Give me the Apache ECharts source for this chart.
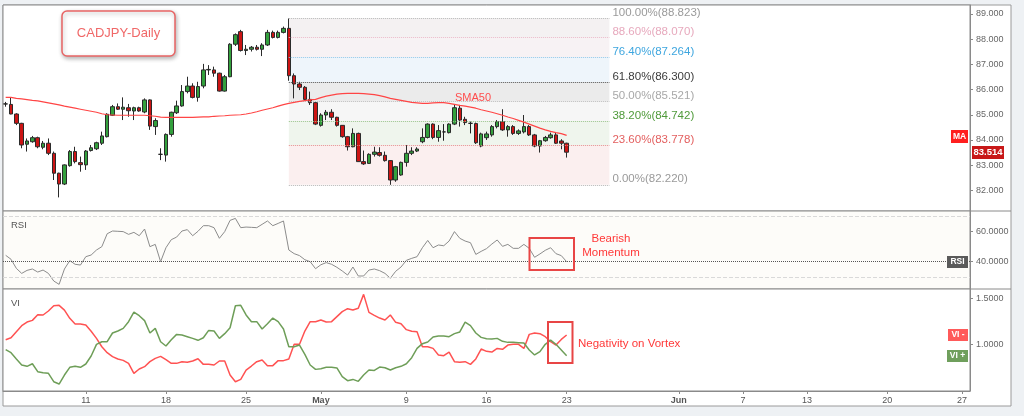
<!DOCTYPE html>
<html><head><meta charset="utf-8">
<script src="https://cdn.jsdelivr.net/npm/echarts@6/dist/echarts.min.js"></script>
<style>html,body{margin:0;padding:0;background:#eef1f4;}#c{width:1024px;height:416px;}</style>
</head><body><div id="c"></div>
<script>
// ---- DATA ----
// candles: [open, close, low, high]
const candles = [
[85.43,85.43,85.32,85.51],[85.41,85.03,85.02,85.69],[85.03,84.66,84.59,85.06],[84.66,83.80,83.67,84.68],[83.83,83.96,83.54,84.06],
[83.93,84.09,83.89,84.16],[84.09,83.73,83.67,84.13],[83.71,83.87,83.63,83.96],[83.87,83.47,83.40,84.06],[83.47,82.68,82.41,83.54],
[82.68,82.25,81.72,82.70],[82.25,83.01,82.21,83.03],[82.98,83.54,82.94,83.60],[83.54,83.14,83.07,83.73],[83.10,83.02,82.74,83.34],
[83.01,83.56,82.81,83.60],[83.58,83.69,83.54,83.80],[83.65,83.89,83.60,83.93],[83.87,84.16,83.80,84.33],[84.13,85.02,84.10,85.06],
[84.98,85.32,84.95,85.39],[85.32,85.22,85.19,85.45],[85.22,85.30,84.79,85.69],[85.28,85.16,84.92,85.43],[85.15,85.28,84.79,85.32],
[85.28,85.15,85.12,85.32],[85.11,85.59,85.06,85.65],[85.59,84.55,84.40,85.61],[84.53,84.77,84.20,84.86],[83.43,83.43,83.20,83.67],
[83.40,84.22,83.14,84.26],[84.22,85.10,84.13,85.12],[85.08,85.35,85.03,85.56],[85.35,85.92,85.32,86.18],[85.92,86.14,85.85,86.51],
[86.14,85.69,85.65,86.25],[85.69,86.12,85.52,86.31],[86.14,86.78,86.05,87.02],[86.78,86.80,86.58,86.97],[86.78,86.65,86.51,86.91],
[86.65,85.94,85.92,86.67],[85.94,86.51,85.92,86.58],[86.51,87.80,86.49,87.84],[87.80,88.18,87.73,88.23],[88.30,87.55,87.51,88.37],
[87.55,87.60,87.37,87.77],[87.60,87.68,87.51,87.73],[87.68,87.60,87.55,87.77],[87.60,87.77,87.33,87.84],[87.77,88.27,87.73,88.37],
[88.27,88.07,88.03,88.34],[88.07,88.27,88.03,88.34],[88.27,88.43,88.23,88.50],[88.43,86.55,86.35,88.823],[86.55,86.22,85.65,86.64],
[86.22,86.09,85.98,86.31],[86.09,85.61,85.56,86.14],[85.61,85.48,85.39,85.92],[85.48,84.63,84.59,85.52],[84.58,84.99,84.53,85.06],
[84.99,85.10,84.79,85.19],[85.10,84.90,84.79,85.22],[84.90,84.58,84.53,84.92],[84.58,84.13,84.09,84.59],[84.13,83.73,83.58,84.16],
[83.73,84.26,83.71,84.46],[84.26,83.14,83.13,84.29],[83.14,83.05,83.01,83.58],[83.07,83.43,83.05,83.47],[83.43,83.52,83.34,83.73],
[83.50,83.39,83.34,83.71],[83.39,83.18,83.14,83.54],[83.18,82.41,82.22,83.20],[82.41,82.94,82.34,82.97],[82.61,83.11,82.58,83.14],
[83.11,83.47,82.94,83.80],[83.47,83.56,83.40,83.71],[83.56,83.64,83.52,83.71],[83.93,84.10,83.87,84.46],[84.10,84.63,84.06,84.66],
[84.63,84.10,84.03,84.66],[84.10,84.37,83.93,84.59],[84.32,84.32,83.97,84.63],[84.29,84.63,84.26,84.66],[84.63,85.28,84.59,85.39],
[85.26,84.79,84.53,85.39],[84.82,84.69,84.59,84.92],[84.66,84.66,84.26,84.73],[84.65,83.89,83.84,84.69],[83.76,84.24,83.71,84.29],
[84.09,84.24,84.00,84.33],[84.20,84.53,84.13,84.59],[84.53,84.73,84.46,84.79],[84.73,84.40,84.36,85.22],[84.40,84.53,84.13,84.59],
[84.53,84.26,84.20,84.59],[84.26,84.36,84.20,84.42],[84.32,84.53,84.26,84.99],[84.53,84.20,84.16,84.59],[84.20,83.76,83.71,84.24],
[83.76,83.97,83.50,84.00],[83.97,84.10,83.93,84.16],[84.09,84.20,84.05,84.29],[84.20,83.87,83.84,84.29],[83.96,83.87,83.63,84.03],
[83.87,83.514,83.30,83.89]
];
const sma50 = [
85.69,85.69,85.65,85.63,85.60,85.57,85.55,85.51,85.47,85.43,
85.39,85.34,85.30,85.26,85.22,85.18,85.14,85.10,85.04,85.00,
84.99,84.98,84.98,84.98,84.98,84.98,84.98,84.96,84.94,84.91,
84.90,84.90,84.90,84.90,84.90,84.90,84.91,84.92,84.92,84.94,
84.95,84.96,84.98,84.99,85.00,85.03,85.07,85.12,85.18,85.23,
85.28,85.34,85.40,85.45,85.49,85.53,85.56,85.59,85.61,85.68,
85.74,85.78,85.82,85.84,85.85,85.85,85.85,85.84,85.82,85.80,
85.76,85.71,85.65,85.61,85.57,85.53,85.49,85.47,85.45,85.45,
85.47,85.48,85.48,85.45,85.41,85.37,85.34,85.30,85.26,85.20,
85.15,85.10,85.04,84.98,84.91,84.85,84.78,84.71,84.63,84.55,
84.47,84.40,84.34,84.29,84.25,84.18
];
const rsi = [
44.2,41.6,35.6,32.3,34.3,35.2,33.2,34.5,32.3,27.3,
25.1,35.2,40.7,38.3,37.8,43.3,44.4,47.7,49.9,58.4,
60.2,60.0,59.8,58.0,59.3,57.1,61.5,49.9,51.4,40.0,
49.2,54.5,56.2,60.2,61.1,57.1,60.0,63.7,63.7,62.4,
55.4,59.8,67.2,68.5,62.4,62.8,62.6,62.4,64.6,66.8,
63.7,65.2,66.8,47.7,45.3,44.0,41.3,40.0,35.4,38.0,
39.4,38.3,36.3,33.9,31.2,36.5,30.6,30.6,34.5,35.2,
34.1,32.3,29.1,33.7,36.5,40.9,42.2,43.3,49.2,54.0,
49.2,51.0,50.5,53.6,59.8,55.4,53.6,52.5,44.8,46.8,
48.6,51.6,54.3,50.1,51.4,48.8,48.8,51.4,48.8,42.9,
45.1,47.5,49.2,45.3,44.0,40.0
];
const viMinus = [
1.054,1.075,1.140,1.205,1.244,1.262,1.323,1.320,1.363,1.420,
1.424,1.373,1.284,1.223,1.223,1.212,1.144,1.068,0.978,0.914,
0.871,0.846,0.831,0.799,0.691,0.738,0.763,0.817,0.853,0.874,
0.838,0.799,0.799,0.817,0.810,0.824,0.849,0.788,0.788,0.781,
0.824,0.824,0.673,0.601,0.626,0.727,0.770,0.817,0.835,0.774,
0.774,0.828,0.828,0.846,1.004,1.004,1.147,1.248,1.248,1.266,
1.244,1.248,1.302,1.356,1.388,1.374,1.392,1.542,1.348,1.316,
1.287,1.266,1.320,1.241,1.226,1.162,1.144,1.140,0.978,0.978,
0.960,0.889,0.881,0.921,0.817,0.810,0.817,0.788,0.846,0.953,
0.928,0.921,0.960,0.950,0.996,1.004,1.004,0.960,1.111,1.126,
1.119,1.086,1.032,0.996,1.057,1.104
];
const viPlus = [
0.946,0.914,0.846,0.781,0.767,0.795,0.709,0.698,0.691,0.601,
0.576,0.673,0.756,0.767,0.756,0.792,0.878,1.004,1.032,1.032,
1.126,1.147,1.176,1.248,1.352,1.312,1.259,1.126,1.176,1.032,
0.986,1.054,1.111,1.104,1.086,1.068,1.047,1.075,1.154,1.147,
1.068,1.119,1.183,1.420,1.424,1.320,1.248,1.248,1.169,1.226,
1.287,1.248,1.169,0.978,0.978,0.996,0.896,0.781,0.734,0.741,
0.756,0.756,0.749,0.655,0.612,0.626,0.605,0.673,0.727,0.723,
0.759,0.752,0.727,0.752,0.767,0.795,0.860,0.960,1.011,1.029,
1.083,1.093,1.093,1.086,1.119,1.137,1.244,1.205,1.126,1.079,
1.065,1.061,1.068,1.036,1.025,1.025,1.022,1.018,0.943,0.889,
0.925,1.004,1.050,1.004,0.943,0.881
];
const fibPct   = [100, 88.6, 76.4, 61.8, 50, 38.2, 23.6, 0];
const fibPrice = [88.823, 88.070, 87.264, 86.300, 85.521, 84.742, 83.778, 82.220];
const fibFrom = 53, fibTo = 113;           // candle slots the retracement spans
const priceTicks = [82, 83, 84, 85, 86, 87, 88, 89];
const rsiTicks = [40, 60];
const rsiBands = [70, 30];
const viTicks = [1.0, 1.5];
const dateSlots  = [15, 30, 45, 59, 75, 90, 105, 126, 138, 150, 165, 179];
const dateLabels = ['11', '18', '25', 'May', '9', '16', '23', 'Jun', '7', '13', '20', '27'];
const monthLabels = ['May', 'Jun'];
const slotCount = 181;

// ---- STYLE ----
const FONT = '"Liberation Sans", Arial, sans-serif';
const zoneColors  = ['#f4f1f2', '#f7f2f4', '#eef5fb', '#ebebeb', '#f6f6f6', '#eff5ed', '#fbefef'];
const lineColors  = ['#b4b4b4', '#e9b7c7', '#8cc7ea', '#555555', '#bdbdbd', '#98c28a', '#e58c8c', '#b4b4b4'];
const labelColors = ['#9a9a9a', '#e7a9bd', '#3ea6df', '#3c3c3c', '#a8a8a8', '#4f9a3a', '#e35f5f', '#9a9a9a'];

const cats = Array.from({length: slotCount}, (_, i) => 'd' + i);
const chart = echarts.init(document.getElementById('c'));

const fibAreas = [];
for (let k = 0; k < fibPrice.length - 1; k++) {
  fibAreas.push([{coord: [fibFrom, fibPrice[k]], itemStyle: {color: zoneColors[k]}}, {coord: [fibTo, fibPrice[k + 1]]}]);
}
const fibLines = fibPrice.map((p, k) => [
  {coord: [fibFrom, p], lineStyle: {color: lineColors[k], type: 'dotted', width: 1},
   label: {show: true, position: 'end', distance: 3, offset: [0, -5.5], color: labelColors[k], fontSize: 11.5, fontFamily: FONT,
           formatter: fibPct[k].toFixed(2) + '%(' + p.toFixed(3) + ')'}},
  {coord: [fibTo, p]}
]);

const axisLineStyle = {show: true, lineStyle: {color: '#8a8a8a'}};
const yLabel = (vals, dec) => ({show: true, customValues: vals, formatter: v => Number(v).toFixed(dec), color: '#666', fontSize: 9, margin: 6, fontFamily: FONT});
const yTick = vals => ({show: true, customValues: vals, length: 3, lineStyle: {color: '#8a8a8a'}});

const option = {
  animation: false,
  backgroundColor: '#eef1f4',
  textStyle: {fontFamily: FONT},
  grid: [
    {left: 3, top: 5, width: 967, height: 206, show: true, backgroundColor: '#ffffff', borderColor: '#8a8a8a', borderWidth: 1},
    {left: 3, top: 211, width: 967, height: 78, show: true, backgroundColor: '#fdfcf9', borderColor: '#8a8a8a', borderWidth: 1},
    {left: 3, top: 289, width: 967, height: 102, show: true, backgroundColor: '#ffffff', borderColor: '#8a8a8a', borderWidth: 1}
  ],
  xAxis: [
    {type: 'category', gridIndex: 0, data: cats, show: false},
    {type: 'category', gridIndex: 1, data: cats, show: false},
    {type: 'category', gridIndex: 2, data: cats,
     axisLine: axisLineStyle,
     axisTick: {show: true, alignWithLabel: true, length: 3, interval: i => dateSlots.includes(i), lineStyle: {color: '#8a8a8a'}},
     axisLabel: {interval: i => dateSlots.includes(i), margin: 5, color: '#555', fontSize: 9, fontFamily: FONT,
       formatter: (v, i) => { const t = dateLabels[dateSlots.indexOf(i)] || ''; return monthLabels.includes(t) ? '{b|' + t + '}' : t; },
       rich: {b: {fontWeight: 'bold', fontSize: 9, color: '#555', fontFamily: FONT}}},
     splitLine: {show: false}}
  ],
  yAxis: [
    {type: 'value', gridIndex: 0, position: 'right', min: 81.18, max: 89.357, scale: true,
     axisLine: axisLineStyle, axisTick: yTick(priceTicks), axisLabel: yLabel(priceTicks, 3), splitLine: {show: false}},
    {type: 'value', gridIndex: 1, position: 'right', min: 22.04, max: 73.36,
     axisLine: axisLineStyle, axisTick: yTick(rsiTicks), axisLabel: yLabel(rsiTicks, 4), splitLine: {show: false}},
    {type: 'value', gridIndex: 2, position: 'right', min: 0.501, max: 1.6,
     axisLine: axisLineStyle, axisTick: yTick(viTicks), axisLabel: yLabel(viTicks, 4), splitLine: {show: false}}
  ],
  series: [
    {type: 'line', name: 'fib', xAxisIndex: 0, yAxisIndex: 0, data: [], z: 1, silent: true,
     markArea: {silent: true, data: fibAreas},
     markLine: {silent: true, symbol: ['none', 'none'], data: fibLines}},
    {type: 'candlestick', name: 'CADJPY', xAxisIndex: 0, yAxisIndex: 0, data: candles, z: 4, barWidth: 4,
     itemStyle: {color: '#33a03d', color0: '#cc1414', borderColor: '#2b2b2b', borderColor0: '#2b2b2b', borderColorDoji: '#222', borderWidth: 1}},
    {type: 'line', name: 'SMA50', xAxisIndex: 0, yAxisIndex: 0, data: sma50, z: 5, showSymbol: false, symbol: 'none',
     lineStyle: {color: '#ff4545', width: 1.2}},
    {type: 'line', name: 'RSI', xAxisIndex: 1, yAxisIndex: 1, data: rsi, showSymbol: false, symbol: 'none',
     lineStyle: {color: '#8c8c8c', width: 1},
     markLine: {silent: true, symbol: ['none', 'none'], label: {show: false},
       data: [
         {yAxis: rsiBands[0], lineStyle: {color: '#d9d9d9', type: 'dashed', width: 1}},
         {yAxis: rsiBands[1], lineStyle: {color: '#d9d9d9', type: 'dashed', width: 1}},
         {yAxis: rsi[rsi.length - 1], lineStyle: {color: '#555', type: 'dotted', width: 1}}
       ]}},
    {type: 'line', name: 'VI -', xAxisIndex: 2, yAxisIndex: 2, data: viMinus, showSymbol: false, symbol: 'none',
     lineStyle: {color: '#ff5252', width: 1.5}},
    {type: 'line', name: 'VI +', xAxisIndex: 2, yAxisIndex: 2, data: viPlus, showSymbol: false, symbol: 'none',
     lineStyle: {color: '#6e9e58', width: 1.5}}
  ]
};
chart.setOption(option);

// ---- annotations (tags anchored to values through the axes) ----
const yPix = (axis, v) => chart.convertToPixel({yAxisIndex: axis}, v);
const tag = (x, y, w, h, fill, text, fs) => [
  {type: 'rect', shape: {x: x, y: Math.round(y - h / 2), width: w, height: h}, style: {fill: fill}, z: 50},
  {type: 'text', x: x + w / 2, y: y, z: 51,
   style: {text: text, fill: '#fff', font: 'bold ' + fs + 'px ' + FONT, align: 'center', verticalAlign: 'middle', textAlign: 'center', textVerticalAlign: 'middle'}}
];
const txt = (x, y, text, color, fs, align, weight) => ({type: 'text', x: x, y: y, z: 60,
  style: {text: text, fill: color, font: (weight || 'normal') + ' ' + fs + 'px ' + FONT,
          align: align || 'left', verticalAlign: 'middle', textAlign: align || 'left', textVerticalAlign: 'middle'}});

const lastClose = candles[candles.length - 1][1];
const gfx = [
  {type: 'rect', shape: {x: 3, y: 5, width: 1008, height: 401}, style: {fill: '#ffffff', stroke: '#9a9a9a', lineWidth: 1}, z: -100},
  {type: 'line', shape: {x1: 970, y1: 211, x2: 1011, y2: 211}, style: {stroke: '#8a8a8a', lineWidth: 1}, z: 10},
  {type: 'line', shape: {x1: 970, y1: 289, x2: 1011, y2: 289}, style: {stroke: '#8a8a8a', lineWidth: 1}, z: 10},
  // title box
  {type: 'rect', shape: {x: 62, y: 11, width: 113, height: 45, r: 5},
   style: {fill: '#fff', stroke: '#e86464', lineWidth: 1.5, shadowBlur: 4, shadowColor: 'rgba(0,0,0,0.28)', shadowOffsetX: 1, shadowOffsetY: 2}, z: 60},
  txt(118.5, 33.5, 'CADJPY-Daily', '#f06868', 13, 'center'),
  txt(455, 97.5, 'SMA50', '#ff4d4d', 11),
  txt(11, 225, 'RSI', '#555', 9.5),
  txt(11, 303, 'VI', '#555', 9.5),
  // annotation boxes
  {type: 'rect', shape: {x: 529.5, y: 238, width: 44.5, height: 32}, style: {fill: 'none', stroke: '#e84545', lineWidth: 2}, z: 60},
  txt(611, 238.5, 'Bearish', '#ff3838', 11.5, 'center'),
  txt(611, 252.5, 'Momentum', '#ff3838', 11.5, 'center'),
  {type: 'rect', shape: {x: 548, y: 322, width: 24.5, height: 41}, style: {fill: 'none', stroke: '#e84545', lineWidth: 2}, z: 60},
  txt(578, 344, 'Negativity on Vortex', '#ff3838', 11.5)
];
gfx.push(...tag(951, yPix(0, sma50[sma50.length - 1]) + 1, 17, 13, '#ff1f1f', 'MA', 8.5));
gfx.push(...tag(972, yPix(0, lastClose), 32, 13, '#c81818', lastClose.toFixed(3), 9.5));
gfx.push(...tag(947, yPix(1, rsi[rsi.length - 1]), 21, 12, '#5a5a5a', 'RSI', 8.5));
gfx.push(...tag(948, yPix(2, viMinus[viMinus.length - 1]), 20, 12, '#ff5a5a', 'VI -', 8.5));
gfx.push(...tag(947, yPix(2, viPlus[viPlus.length - 1]), 21, 12, '#6f9f5c', 'VI +', 8.5));
chart.setOption({graphic: {elements: gfx}});
</script></body></html>
